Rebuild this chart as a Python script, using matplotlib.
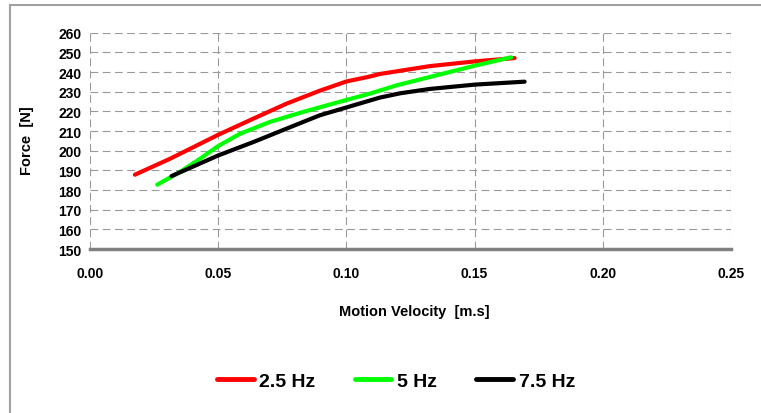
import matplotlib
matplotlib.use("Agg")
import matplotlib.pyplot as plt
from matplotlib.patches import Rectangle
from matplotlib.lines import Line2D

# data
vel_25 = [0.0175, 0.0312, 0.050, 0.0637, 0.0766, 0.0896, 0.100, 0.1091, 0.113, 0.1325, 0.150, 0.1656]
force_25 = [187.8, 195.9, 208.1, 216.3, 223.9, 230.5, 235.2, 237.7, 239.0, 243.0, 245.4, 247.1]

vel_5 = [0.0262, 0.0351, 0.0429, 0.050, 0.0585, 0.0701, 0.0831, 0.100, 0.1091, 0.1195, 0.150, 0.1643]
force_5 = [182.7, 189.2, 195.9, 202.4, 208.6, 214.6, 219.7, 225.8, 229.0, 233.2, 243.2, 247.5]

vel_75 = [0.0318, 0.050, 0.0637, 0.0766, 0.0896, 0.100, 0.113, 0.121, 0.1325, 0.150, 0.1695]
force_75 = [187.1, 197.6, 204.4, 211.2, 218.0, 222.0, 227.0, 229.2, 231.4, 233.6, 235.1]

series = [
    ("2.5 Hz", vel_25, force_25, "#ff0000"),
    ("5 Hz", vel_5, force_5, "#00ff00"),
    ("7.5 Hz", vel_75, force_75, "#000000"),
]

plt.rcParams['font.family'] = ['Liberation Sans', 'DejaVu Sans']

fig = plt.figure(figsize=(7.61, 4.14), dpi=100)
ax = fig.add_axes([0.1183, 0.396, 0.8423, 0.5226])

for name, x, y, c in series:
    ax.plot(x, y, color=c, linewidth=3, solid_capstyle='round',
            solid_joinstyle='round', label=name)

ax.set_xlim(0, 0.25)
ax.set_ylim(150, 260)
ax.set_xticks([0.0, 0.05, 0.10, 0.15, 0.20, 0.25])
ax.set_xticklabels(['0.00', '0.05', '0.10', '0.15', '0.20', '0.25'])
ax.set_yticks(range(150, 261, 10))
ax.grid(True, color='#999999', linestyle=(0, (7, 4)), linewidth=0.8)
ax.set_axisbelow(True)
ax.tick_params(length=0, labelsize=10, pad=6)
for lab in ax.get_xticklabels() + ax.get_yticklabels():
    lab.set_fontweight('bold')
ax.tick_params(axis='x', pad=12)

for s in ['top', 'right', 'left']:
    ax.spines[s].set_visible(False)
ax.spines['bottom'].set_color('#808080')
ax.spines['bottom'].set_linewidth(2.5)

fig.text(414 / 761, 1 - 312 / 414, 'Motion Velocity  [m.s]', ha='center', va='center',
         fontsize=10.5, fontweight='bold')
fig.text(27 / 761, 1 - 141 / 414, 'Force  [N]', ha='center', va='center',
         rotation=90, fontsize=10.5, fontweight='bold')

handles = [Line2D([0], [0], color=c, linewidth=3.5, solid_capstyle='round')
           for _, _, _, c in series]
fig.legend(handles, [s[0] for s in series], loc='center', bbox_to_anchor=(396 / 761, 1 - 382 / 414),
           ncol=3, frameon=False, prop={'size': 14, 'weight': 'bold'},
           handlelength=1.9, handletextpad=0.3, columnspacing=2.0)

# outer chart border (only left/top visible in the reference)
fig.patches.append(Rectangle((10 / 761, -0.05), 1.2, 1 - 5.5 / 414 + 0.05,
                             transform=fig.transFigure, fill=False,
                             edgecolor='#a0a0a0', linewidth=1.5))

fig.savefig('out.png', dpi=100, facecolor='white')
